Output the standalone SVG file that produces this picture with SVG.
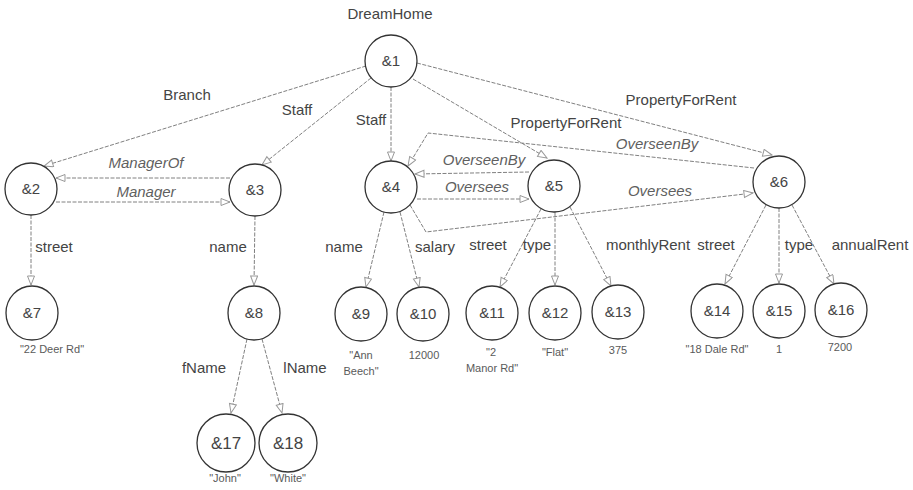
<svg xmlns="http://www.w3.org/2000/svg" width="913" height="490" viewBox="0 0 913 490">
<style>
.bg{fill:#ffffff}
.node circle,.node ellipse{fill:#ffffff;stroke:#333333;stroke-width:1.3}
.nl{font-family:"Liberation Sans",Arial,sans-serif;font-size:15px;fill:#444444;text-anchor:middle}
.nb{font-size:17px}
.vl{font-family:"Liberation Sans",Arial,sans-serif;font-size:11px;fill:#5a5a5a;text-anchor:middle}
.el{font-family:"Liberation Sans",Arial,sans-serif;font-size:15px;fill:#444444;text-anchor:middle}
.it{font-style:italic;fill:#5f5f5f}
.edges line,.edges polyline{fill:none;stroke:#808080;stroke-width:1;stroke-dasharray:4 1.5;marker-end:url(#arr)}
</style>
<defs>
<marker id="arr" markerUnits="userSpaceOnUse" markerWidth="12" markerHeight="10" refX="10" refY="4" orient="auto">
<path d="M1,0.5 L10,4 L1,7.5 Z" fill="#ffffff" stroke="#999999" stroke-width="1"/>
</marker>
</defs>
<rect class="bg" x="0" y="0" width="913" height="490"/>
<text class="el" x="390" y="19">DreamHome</text>
<g class="edges" id="connectors">
<line x1="366" y1="66" x2="44" y2="166"/>
<line x1="371" y1="78" x2="262" y2="165"/>
<line x1="391" y1="87" x2="391" y2="161"/>
<line x1="413" y1="79" x2="547" y2="158"/>
<line x1="417" y1="63" x2="772" y2="155"/>
<line x1="230" y1="178" x2="56" y2="178"/>
<line x1="56" y1="202" x2="230" y2="202"/>
<line x1="31" y1="215" x2="31" y2="285"/>
<line x1="255" y1="216" x2="254" y2="285"/>
<line x1="384" y1="212" x2="366" y2="287"/>
<line x1="400" y1="212" x2="419" y2="287"/>
<polyline points="410,205 426,232 753,193"/>
<line x1="417" y1="199" x2="529" y2="199"/>
<line x1="529" y1="172" x2="415" y2="174"/>
<polyline points="754,168 428,133 408,166"/>
<line x1="541" y1="209" x2="500" y2="287"/>
<line x1="555" y1="212" x2="555" y2="285"/>
<line x1="570" y1="207" x2="611" y2="286"/>
<line x1="766" y1="205" x2="725" y2="284"/>
<line x1="779" y1="208" x2="779" y2="283"/>
<line x1="792" y1="205" x2="834" y2="284"/>
<line x1="247" y1="339" x2="231" y2="413"/>
<line x1="262" y1="339" x2="282" y2="413"/>
</g>
<g id="edge-labels">
<text class="el" x="187" y="100">Branch</text>
<text class="el" x="297" y="115">Staff</text>
<text class="el" x="371" y="125">Staff</text>
<text class="el" x="681" y="105">PropertyForRent</text>
<text class="el" x="566" y="128">PropertyForRent</text>
<text class="el it" x="657" y="149">OverseenBy</text>
<text class="el it" x="484" y="165">OverseenBy</text>
<text class="el it" x="477" y="192">Oversees</text>
<text class="el it" x="660" y="196">Oversees</text>
<text class="el it" x="146" y="168">ManagerOf</text>
<text class="el it" x="146" y="197">Manager</text>
<text class="el" x="54" y="252">street</text>
<text class="el" x="228" y="252">name</text>
<text class="el" x="344" y="252">name</text>
<text class="el" x="435" y="252">salary</text>
<text class="el" x="488" y="250">street</text>
<text class="el" x="537" y="250">type</text>
<text class="el" x="648" y="250">monthlyRent</text>
<text class="el" x="716" y="250">street</text>
<text class="el" x="799" y="250">type</text>
<text class="el" x="870" y="250">annualRent</text>
<text class="el" x="204" y="373">fName</text>
<text class="el" x="305" y="373">lName</text>
</g>
<g id="n1" class="node"><circle cx="391" cy="61" r="26"/><text class="nl" x="391" y="66">&amp;1</text></g>
<g id="n2" class="node"><circle cx="31" cy="189" r="26"/><text class="nl" x="31" y="194">&amp;2</text></g>
<g id="n3" class="node"><circle cx="255" cy="190" r="26"/><text class="nl" x="255" y="195">&amp;3</text></g>
<g id="n4" class="node"><circle cx="391" cy="187" r="26"/><text class="nl" x="391" y="192">&amp;4</text></g>
<g id="n5" class="node"><circle cx="554" cy="186" r="26"/><text class="nl" x="554" y="191">&amp;5</text></g>
<g id="n6" class="node"><circle cx="779" cy="182" r="26"/><text class="nl" x="779" y="187">&amp;6</text></g>
<g id="n7" class="node"><ellipse cx="32" cy="313" rx="26" ry="27"/><text class="nl" x="32" y="318">&amp;7</text><text class="vl" x="52" y="353">"22 Deer Rd"</text></g>
<g id="n8" class="node"><ellipse cx="254" cy="313" rx="26" ry="27"/><text class="nl" x="254" y="318">&amp;8</text></g>
<g id="n9" class="node"><ellipse cx="361" cy="314" rx="26" ry="27"/><text class="nl" x="361" y="319">&amp;9</text><text class="vl" x="361" y="359">"Ann</text><text class="vl" x="361" y="375">Beech"</text></g>
<g id="n10" class="node"><ellipse cx="423" cy="314" rx="26" ry="27"/><text class="nl" x="423" y="319">&amp;10</text><text class="vl" x="424" y="359">12000</text></g>
<g id="n11" class="node"><ellipse cx="492" cy="313" rx="26" ry="27"/><text class="nl" x="492" y="318">&amp;11</text><text class="vl" x="491" y="356">"2</text><text class="vl" x="492" y="372">Manor Rd"</text></g>
<g id="n12" class="node"><ellipse cx="555" cy="313" rx="26" ry="27"/><text class="nl" x="555" y="318">&amp;12</text><text class="vl" x="555" y="356">"Flat"</text></g>
<g id="n13" class="node"><ellipse cx="618" cy="312" rx="26" ry="27"/><text class="nl" x="618" y="317">&amp;13</text><text class="vl" x="618" y="354">375</text></g>
<g id="n14" class="node"><ellipse cx="717" cy="311" rx="26" ry="27"/><text class="nl" x="717" y="316">&amp;14</text><text class="vl" x="717" y="353">"18 Dale Rd"</text></g>
<g id="n15" class="node"><ellipse cx="779" cy="311" rx="26" ry="27"/><text class="nl" x="779" y="316">&amp;15</text><text class="vl" x="779" y="353">1</text></g>
<g id="n16" class="node"><ellipse cx="841" cy="310" rx="26" ry="27"/><text class="nl" x="841" y="315">&amp;16</text><text class="vl" x="840" y="351">7200</text></g>
<g id="n17" class="node"><circle cx="226" cy="443" r="29"/><text class="nl nb" x="226" y="449">&amp;17</text><text class="vl" x="225" y="482">"John"</text></g>
<g id="n18" class="node"><circle cx="288" cy="443" r="29"/><text class="nl nb" x="288" y="449">&amp;18</text><text class="vl" x="288" y="482">"White"</text></g>
</svg>
